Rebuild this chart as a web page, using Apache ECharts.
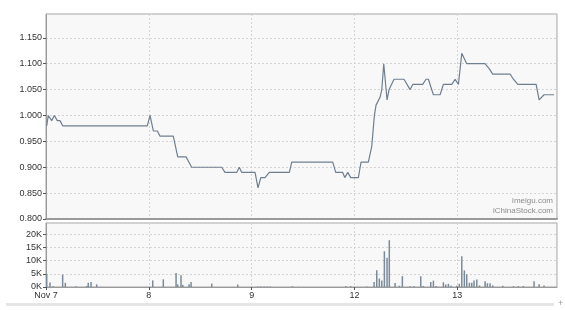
<!DOCTYPE html>
<html><head><meta charset="utf-8">
<script src="https://cdn.jsdelivr.net/npm/echarts@6/dist/echarts.min.js"></script>
<style>html,body{margin:0;padding:0;background:#fff}#c{width:565px;height:310px}</style>
</head><body><div id="c"></div>
<script>
// day index: 0=Nov 7, 1=8, 2=9, 3=12, 4=13
var dayLabels = ['Nov 7', '8', '9', '12', '13'];
var priceTime = [0.007,0.022,0.055,0.081,0.110,0.136,0.162,0.985,1.012,1.044,1.083,1.109,1.238,1.281,1.362,1.417,1.709,1.741,1.855,1.880,1.904,2.033,2.062,2.089,2.130,2.172,2.367,2.390,2.789,2.818,2.886,2.906,2.935,2.964,3.038,3.064,3.135,3.168,3.194,3.210,3.249,3.266,3.285,3.317,3.337,3.356,3.385,3.482,3.541,3.567,3.664,3.696,3.719,3.768,3.833,3.865,3.947,3.979,4.011,4.044,4.060,4.092,4.270,4.312,4.345,4.514,4.546,4.589,4.767,4.796,4.815,4.844,4.942];
var priceValue = [0.98,1.00,0.99,1.00,0.99,0.99,0.98,0.98,1.00,0.97,0.97,0.96,0.96,0.92,0.92,0.90,0.90,0.89,0.89,0.90,0.89,0.89,0.86,0.88,0.88,0.89,0.89,0.91,0.91,0.89,0.89,0.88,0.89,0.88,0.88,0.91,0.91,0.94,1.00,1.02,1.035,1.05,1.10,1.03,1.05,1.05,1.07,1.07,1.05,1.06,1.06,1.07,1.07,1.04,1.04,1.06,1.06,1.07,1.06,1.12,1.12,1.10,1.10,1.09,1.08,1.08,1.07,1.06,1.06,1.03,1.03,1.04,1.04];
var volTime = [0.007,0.039,0.071,0.162,0.188,0.292,0.396,0.411,0.438,0.493,1.038,1.141,1.265,1.281,1.313,1.330,1.391,1.411,1.612,1.865,2.062,2.091,2.121,2.150,2.179,2.396,2.915,2.964,3.120,3.191,3.217,3.242,3.266,3.291,3.317,3.339,3.395,3.437,3.466,3.541,3.580,3.645,3.670,3.742,3.768,3.794,3.865,3.888,3.914,3.940,3.995,4.020,4.044,4.069,4.092,4.118,4.141,4.163,4.190,4.216,4.271,4.293,4.319,4.345,4.443,4.546,4.594,4.643,4.747,4.796,4.844];
var volValue = [5000,1700,300,4700,1600,300,400,1600,1900,1000,2500,2900,5300,1000,4400,800,1000,1900,1300,900,200,200,200,200,200,300,300,300,200,1900,6300,3200,2500,13500,11100,17700,1500,500,4100,300,300,4100,400,1900,2400,400,1800,900,1200,500,500,1200,11600,6300,4800,1600,1600,2500,2800,600,2200,1400,1400,600,500,300,300,400,2200,1000,600];
var priceTicks = [0.80,0.85,0.90,0.95,1.00,1.05,1.10,1.15];

var priceData = priceTime.map(function(t,i){return [t, priceValue[i]];});
var volData = volTime.map(function(t,i){return [t, volValue[i]];});

var chart = echarts.init(document.getElementById('c'), null, {renderer:'canvas'});
var font = 'Arial, "Liberation Sans", sans-serif';
var split = {show:true, lineStyle:{color:'#d4d4d4', type:[2,2], width:1}};
chart.setOption({
  animation:false,
  backgroundColor:'#fff',
  grid:[
    {left:46, right:8, top:14, height:205, show:true, backgroundColor:'#f8f8f8', borderColor:'#a3a3a3', borderWidth:1},
    {left:46, right:8, top:223, height:64, show:true, backgroundColor:'#f8f8f8', borderColor:'#a3a3a3', borderWidth:1}
  ],
  xAxis:[
    {type:'value', gridIndex:0, min:0, max:4.97, interval:1, axisLabel:{show:false}, axisTick:{show:false},
     axisLine:{show:true, lineStyle:{color:'#9a9a9a', width:2}}, splitLine:split},
    {type:'value', gridIndex:1, min:0, max:4.97, interval:1,
     axisLine:{show:true, lineStyle:{color:'#9a9a9a', width:1}},
     axisTick:{show:true, length:3, lineStyle:{color:'#555'}},
     axisLabel:{show:true, margin:4, fontSize:9, fontFamily:font, color:'#333', showMaxLabel:false,
       formatter:function(v){var i=Math.round(v); return (Math.abs(v-i)<1e-6 && dayLabels[i]!==undefined)?dayLabels[i]:'';}},
     splitLine:split}
  ],
  yAxis:[
    {type:'value', gridIndex:0, min:0.8, max:1.196, interval:0.05,
     axisLine:{show:true, lineStyle:{color:'#9a9a9a'}},
     axisTick:{show:true, length:3, lineStyle:{color:'#555'}},
     axisLabel:{margin:4, fontSize:9, fontFamily:font, color:'#333', showMaxLabel:false,
       formatter:function(v){for(var k=0;k<priceTicks.length;k++){if(Math.abs(v-priceTicks[k])<1e-6)return priceTicks[k].toFixed(3);}return '';}},
     splitLine:split},
    {type:'value', gridIndex:1, min:0, max:24200, interval:5000,
     axisLine:{show:true, lineStyle:{color:'#9a9a9a'}},
     axisTick:{show:true, length:3, lineStyle:{color:'#555'}},
     axisLabel:{margin:4, fontSize:9, fontFamily:font, color:'#333', showMaxLabel:false,
       formatter:function(v){return Math.round(v/1000)+'K';}},
     splitLine:split}
  ],
  series:[
    {type:'line', xAxisIndex:0, yAxisIndex:0, data:priceData, symbol:'none', lineStyle:{color:'#6f7f8f', width:1.2}},
    {type:'bar', xAxisIndex:1, yAxisIndex:1, data:volData, barWidth:1.5, itemStyle:{color:'#7b8a9a'}}
  ],
  graphic:[
    {type:'text', right:12, top:197, style:{text:'imeigu.com', font:'8px '+font, fill:'#8c8c8c', textAlign:'right'}},
    {type:'text', right:12, top:207, style:{text:'iChinaStock.com', font:'8px '+font, fill:'#8c8c8c', textAlign:'right'}},
    {type:'rect', shape:{x:6, y:303, width:548, height:3}, style:{fill:'#e6e6e6'}},
    {type:'text', left:558, top:299, style:{text:'+', font:'9px '+font, fill:'#999'}}
  ]
});
</script>
</body></html>
